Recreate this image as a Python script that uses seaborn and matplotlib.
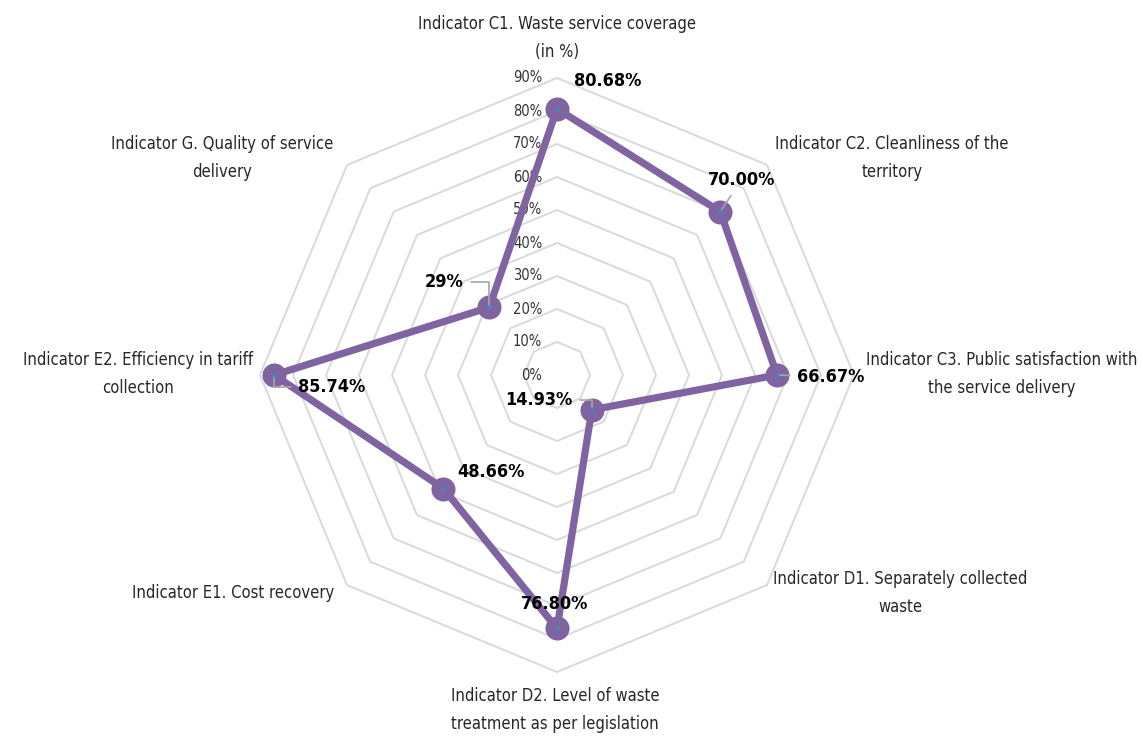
import numpy as np
import pandas as pd
import matplotlib
matplotlib.use("Agg")
import matplotlib.pyplot as plt
import seaborn as sns

# Indicators (clockwise from the top) and their scores in %
categories = [
    "Indicator C1. Waste service coverage\n(in %)",
    "Indicator C2. Cleanliness of the\nterritory",
    "Indicator C3. Public satisfaction with\nthe service delivery",
    "Indicator D1. Separately collected\nwaste",
    "Indicator D2. Level of waste\ntreatment as per legislation",
    "Indicator E1. Cost recovery",
    "Indicator E2. Efficiency in tariff\ncollection",
    "Indicator G. Quality of service\ndelivery",
]
values = [80.68, 70.00, 66.67, 14.93, 76.80, 48.66, 85.74, 29.0]
value_labels = ["80.68%", "70.00%", "66.67%", "14.93%", "76.80%", "48.66%", "85.74%", "29%"]
grid_levels = [0, 10, 20, 30, 40, 50, 60, 70, 80, 90]
grid_labels = ["0%", "10%", "20%", "30%", "40%", "50%", "60%", "70%", "80%", "90%"]

sns.set_theme(style="white")
plt.rcParams['font.family'] = ['DejaVu Sans']
plt.rcParams['font.stretch'] = 'condensed'

purple = "#8064A2"
grid_col = "#D9D9D9"

n = len(categories)
ang = np.arange(n) * 2 * np.pi / n
sx, sy = np.sin(ang), np.cos(ang)

fig = plt.figure(figsize=(11.43, 7.38), dpi=100)
ax = fig.add_axes([0, 0, 1, 1])
ppu = 297 / 90  # pixels per percent
ax.set_xlim(-557 / ppu, (1143 - 557) / ppu)
ax.set_ylim(-363 / ppu, 375 / ppu)
ax.axis("off")

# octagon gridlines
for lv in grid_levels[1:]:
    ax.plot(np.append(sx, sx[0]) * lv, np.append(sy, sy[0]) * lv,
            color=grid_col, lw=1.4, zorder=1)

# tick labels along the top axis
for lv, lab in zip(grid_levels, grid_labels):
    ax.text(-4.5, lv, lab, ha="right", va="center", fontsize=10.5,
            color="#333333", zorder=2)

# data polygon
df = pd.DataFrame({"x": np.array(values) * sx, "y": np.array(values) * sy})
closed = pd.concat([df, df.iloc[:1]], ignore_index=True)
sns.lineplot(data=closed, x="x", y="y", sort=False, estimator=None,
             color=purple, lw=5.2, ax=ax, zorder=3)
sns.scatterplot(data=df, x="x", y="y", color=purple, s=300, linewidth=0,
                ax=ax, zorder=4)
ax.scatter(df["x"], df["y"], color="#4F81BD", s=6, zorder=5)

# data labels (offsets in pixels)
lab_off = [(51, 28), (21, 32), (54, -2), (-53, 10), (-2, 24), (47, 17), (58, -12), (-45, 25)]
leader = [None, "arc3", "arc3", "angle,angleA=0,angleB=90", None, None,
          "angle,angleA=0,angleB=90", "angle,angleA=0,angleB=90"]
for i in range(n):
    kw = {}
    if leader[i]:
        kw["arrowprops"] = dict(arrowstyle="-", color="#A6A6A6", lw=1.2,
                                connectionstyle=leader[i], shrinkA=3, shrinkB=2)
    ax.annotate(value_labels[i], xy=(df["x"][i], df["y"][i]), xytext=lab_off[i],
                textcoords="offset pixels", ha="center", va="center",
                fontsize=13, fontweight="bold", color="black", zorder=6, **kw)

# category labels around the outer ring
cat_off = [(0, 40), (125, 7), (148, 1), (133, -8), (-2, -38), (-114, -8), (-122, 1), (-125, 7)]
for i in range(n):
    ax.annotate(categories[i], xy=(90 * sx[i], 90 * sy[i]), xytext=cat_off[i],
                textcoords="offset pixels", ha="center", va="center",
                fontsize=11.9, color="#262626", linespacing=1.65, zorder=6)

fig.savefig("out.png", dpi=100)
